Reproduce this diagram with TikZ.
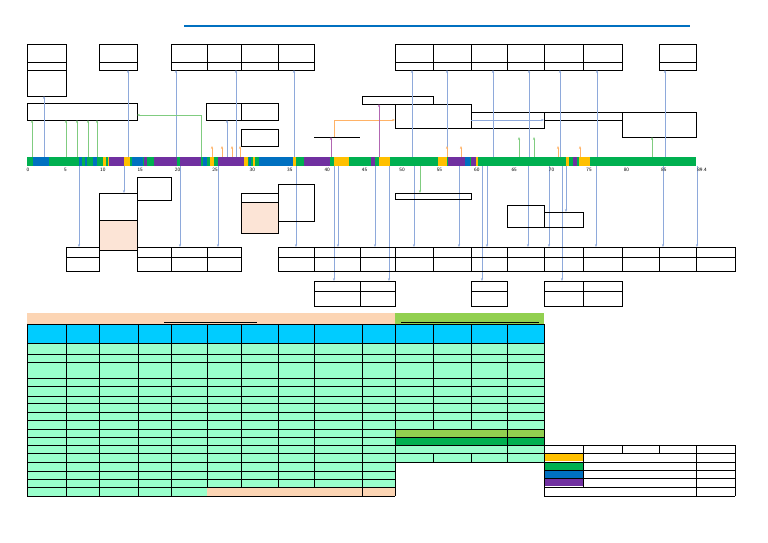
\documentclass[tikz,border=0pt]{standalone}
\usetikzlibrary{arrows.meta}
\definecolor{segGreen}{HTML}{00B050}
\definecolor{segBlue}{HTML}{0070C0}
\definecolor{segPurple}{HTML}{7030A0}
\definecolor{segYellow}{HTML}{FFC000}
\definecolor{peach}{HTML}{FCE4D6}
\definecolor{peachHead}{HTML}{FCD5B4}
\definecolor{mint}{HTML}{99FFCC}
\definecolor{cyanHead}{HTML}{00CCFF}
\definecolor{limeHead}{HTML}{92D050}
\definecolor{linkBlue}{HTML}{8EA9DB}
\begin{document}
\begin{tikzpicture}[x=1pt,y=-1pt,
    box/.style={draw,thin},
    link/.style={-{Stealth[length=3pt]},thin},
    seg/.style={fill=#1,draw=none}]
\useasboundingbox (0,0) rectangle (768,543);
\draw[segBlue,line width=1.2pt] (184,26) -- (690,26);
% top row of boxes
\foreach \a/\b in {27/66,99/137,171/207,207/241,241/278,278/314,395/433,433/471,471/507,507/544,544/583,583/622,659/696}
  {\draw[box] (\a,44) rectangle (\b,70); \draw (\a,62) -- (\b,62);}
\draw[box] (27,70) rectangle (66,96);
% second row
\draw[box] (27,103) rectangle (137,120);
\draw[box] (206,103) rectangle (241,120);
\draw[box] (241,103) rectangle (278,120);
\draw[box] (241,129) rectangle (278,146);
\draw[box] (362,96) rectangle (433,104);
\draw[box] (395,104) rectangle (471,128);
\draw[box] (471,112) rectangle (544,128);
\draw[box] (544,112) rectangle (622,120);
\draw[box] (622,112) rectangle (696,137);
\draw (314,137) -- (360,137);
% connectors
\foreach \x/\y in {44/96,128/70,176/70,236/70,294/70,412/70,447/70,493/70,529/70,560/70,597/70,665/70,227/120}
  \draw[link,linkBlue] (\x,157) -- (\x,\y);
\foreach \x/\y in {79/247,124/193,180/247,218/247,296/247,338/247,375/247,414/247,459/247,487/247,528/247,549/247,566/212,596/247,663/247,697/247,334/281,389/281,482/281,562/281}
  \draw[link,linkBlue] (\x,166) -- (\x,\y);
\foreach \x in {32,66,77,88,97}
  \draw[link,green!60!black!50] (\x,157) -- (\x,120);
\foreach \x in {519,534,652}
  \draw[link,green!60!black!50] (\x,157) -- (\x,137);
\draw[link,green!60!black!50] (201,157) -- (201,115) -- (137,115);
\foreach \x in {212,222,232,240,447,461,558,580}
  \draw[link,orange!60] (\x,157) -- (\x,146);
\draw[link,orange!60] (334,137) -- (334,120) -- (395,120);
\draw[link,violet!60] (379,157) -- (379,104);
\draw[link,violet!60] (331,166) -- (331,137);
\draw[link,linkBlue] (471,120) -- (544,120);
\draw[link,green!60!black!50] (420,166) -- (420,193);
% bar
\fill[segGreen] (27,157) rectangle (696,166);
\foreach \s/\e/\c in {0.8/3/segBlue,6.9/7.3/segBlue,7.7/8/segBlue,8.8/9.3/segBlue,10.2/10.5/segYellow,10.8/11/segYellow,
  11/13/segPurple,13/13.8/segYellow,14/15.5/segBlue,15.7/16/segPurple,17/20/segPurple,20.4/23.3/segPurple,23.5/24/segBlue,
  24.5/25/segYellow,25.5/29/segPurple,29/29.5/segYellow,29.7/30/segBlue,30.2/30.5/segYellow,31/35.5/segBlue,35.5/36/segYellow,
  37/40.5/segPurple,41/43/segYellow,46/46.5/segPurple,47/48.5/segYellow,55/56.2/segYellow,56.3/58.5/segPurple,
  58.5/59.2/segBlue,59.3/60/segPurple,60/60.3/segYellow,72/72.5/segYellow,73/73.5/segPurple,73.8/75.2/segYellow}
  \fill[\c] (27+7.48*\s,157) rectangle (27+7.48*\e,166);
\foreach \t in {0,5,...,85}
  \node[font=\sffamily\tiny,inner sep=0pt] (tick\t) at (28+7.48*\t,170) {\t};
\node[font=\sffamily\tiny,inner sep=0pt] (tickEnd) at (702,170) {89.4};
% boxes below the bar
\draw[box] (99,193) rectangle (137,220);
\draw[box,fill=peach] (99,220) rectangle (137,250);
\draw[box] (137,177) rectangle (171,200);
\draw[box] (241,193) rectangle (278,202);
\draw[box,fill=peach] (241,202) rectangle (278,233);
\draw[box] (278,184) rectangle (314,221);
\draw[box] (395,193) rectangle (471,199);
\draw[box] (507,205) rectangle (544,227);
\draw[box] (544,212) rectangle (583,227);
% bottom rows of boxes
\foreach \a/\b in {66/99,137/171,171/207,207/241,278/314,314/360,360/395,395/433,433/471,471/507,507/544,544/583,583/622,622/659,659/696,696/735}
  {\draw[box] (\a,247) rectangle (\b,271); \draw (\a,257) -- (\b,257);}
\foreach \a/\b in {314/360,360/395,471/507,544/583,583/622}
  {\draw[box] (\a,281) rectangle (\b,306); \draw (\a,291) -- (\b,291);}
% table
\fill[peachHead] (27,313) rectangle (395,324);
\fill[limeHead] (395,313) rectangle (544,324);
\draw (164,322) -- (257,322);
\draw (401,322) -- (539,322);
\fill[cyanHead] (27,324) rectangle (544,343);
\fill[mint] (27,343) rectangle (395,496);
\fill[mint] (395,343) rectangle (544,462);
\fill[limeHead] (395,429) rectangle (544,437);
\fill[segGreen] (395,437) rectangle (544,445);
\fill[peachHead] (207,487) rectangle (395,496);
\foreach \y in {324,343,354,362,378,386,396,403,412,420,429,437,445,453,462,471,479,487,496}
  \draw (27,\y) -- (395,\y);
\foreach \y in {324,343,354,362,378,386,396,403,412,420,429,437,445,453,462}
  \draw (395,\y) -- (544,\y);
\foreach \x in {27,66,99,138,171}
  \draw (\x,324) -- (\x,496);
\foreach \x in {207,241,278,314}
  \draw (\x,324) -- (\x,487);
\draw (362,324) -- (362,496);
\draw (395,324) -- (395,496);
\foreach \x in {433,471}
  {\draw (\x,324) -- (\x,429); \draw (\x,453) -- (\x,462);}
\draw (507,324) -- (507,462);
\draw (544,324) -- (544,462);
% legend
\foreach \y/\c in {453/segYellow,462/segGreen,470/segBlue,478/segPurple}
  \fill[\c] (544,\y) rectangle (583,\y+8);
\foreach \y in {445,453,462,470,478,487,496}
  \draw (544,\y) -- (735,\y);
\draw (544,445) -- (544,496);
\draw (735,445) -- (735,496);
\draw (583,445) -- (583,487);
\draw (696,445) -- (696,496);
\draw (622,445) -- (622,453);
\draw (659,445) -- (659,453);
\end{tikzpicture}
\end{document}
